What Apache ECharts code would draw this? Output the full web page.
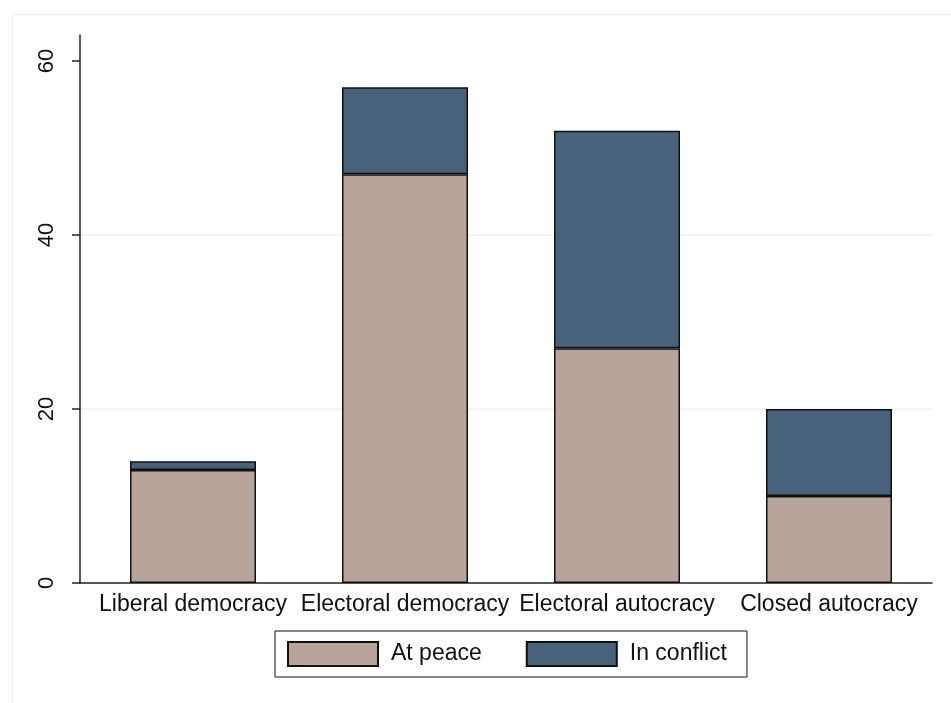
<!DOCTYPE html>
<html>
<head>
<meta charset="utf-8">
<script src="https://cdn.jsdelivr.net/npm/echarts@6/dist/echarts.min.js"></script>
<style>
  html, body { margin: 0; padding: 0; background: #fff; }
  #chart { width: 951px; height: 703px; }
</style>
</head>
<body>
<div id="chart"></div>
<script>
const categories = ["Liberal democracy", "Electoral democracy", "Electoral autocracy", "Closed autocracy"];
const atPeace = [13, 47, 27, 10];
const inConflict = [1, 10, 25, 10];
const yTicks = [0, 20, 40, 60];
const seriesNames = ["At peace", "In conflict"];

const FONT = "Liberation Sans, Arial, Helvetica, sans-serif";
const chart = echarts.init(document.getElementById('chart'), null, { renderer: 'canvas' });

const yMin = 0, yMax = 63, yInterval = 20;

chart.setOption({
  backgroundColor: '#ffffff',
  animation: false,
  graphic: [{
    type: 'rect', left: 10, top: 12, silent: true, z: -10,
    shape: { width: 960, height: 700 },
    style: { fill: 'none', stroke: '#ececec', lineWidth: 1 }
  }],
  grid: [
    { left: 80, right: 19, top: 35, bottom: 120 },
    { left: 87, right: 16, top: 35, bottom: 120 }
  ],
  legend: {
    data: seriesNames,
    left: 275, top: 631,
    orient: 'horizontal',
    itemWidth: 90, itemHeight: 24, itemGap: 44,
    padding: [10, 20, 10, 12],
    borderColor: '#111', borderWidth: 1,
    icon: 'rect',
    textStyle: { fontFamily: FONT, fontSize: 23, color: '#111', padding: [3, 0, 0, 8] }
  },
  xAxis: [
    {
      gridIndex: 0, type: 'value', min: 0, max: 1,
      axisLine: { show: true, lineStyle: { color: '#222', width: 1.5 } },
      axisTick: { show: false }, axisLabel: { show: false }, splitLine: { show: false }
    },
    {
      gridIndex: 1, type: 'category', data: categories, boundaryGap: true,
      axisLine: { show: false }, axisTick: { show: false }, splitLine: { show: false },
      axisLabel: { fontFamily: FONT, fontSize: 23, color: '#111', margin: 10, interval: 0 }
    }
  ],
  yAxis: [
    {
      gridIndex: 0, type: 'value', min: yMin, max: yMax, interval: yInterval,
      axisLine: { show: true, onZero: false, lineStyle: { color: '#222', width: 1.5 } },
      axisTick: { show: true, length: 8, customValues: yTicks, lineStyle: { color: '#222', width: 1.5 } },
      axisLabel: {
        customValues: yTicks,
        rotate: 90, margin: 22,
        fontFamily: FONT, fontSize: 22, color: '#111'
      },
      splitLine: { show: true, showMinLine: false, showMaxLine: false, lineStyle: { color: '#eaf0f3', width: 1.5 } }
    },
    {
      gridIndex: 1, type: 'value', min: yMin, max: yMax, interval: yInterval,
      axisLine: { show: false }, axisTick: { show: false }, axisLabel: { show: false }, splitLine: { show: false }
    }
  ],
  series: [
    {
      name: seriesNames[0], type: 'bar', stack: 'total', barWidth: 126,
      xAxisIndex: 1, yAxisIndex: 1,
      data: atPeace,
      itemStyle: { color: '#b9a49c', borderColor: '#111', borderWidth: 1.5 }
    },
    {
      name: seriesNames[1], type: 'bar', stack: 'total', barWidth: 126,
      xAxisIndex: 1, yAxisIndex: 1,
      data: inConflict,
      itemStyle: { color: '#48627b', borderColor: '#111', borderWidth: 1.5 }
    }
  ]
});
</script>
</body>
</html>
